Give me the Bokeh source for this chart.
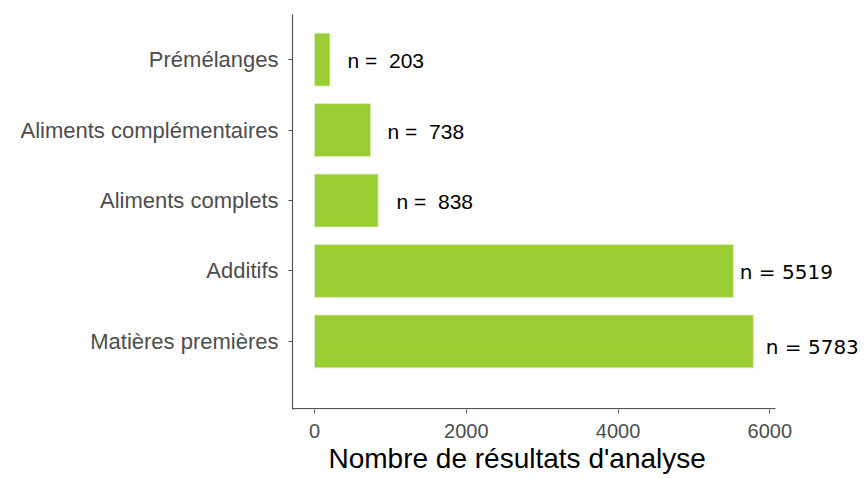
from bokeh.plotting import figure
from bokeh.models import ColumnDataSource, Range1d, FixedTicker
from bokeh.embed import file_html
from bokeh.resources import INLINE

# Data (bottom to top)
categories = ["Matières premières", "Additifs", "Aliments complets",
              "Aliments complémentaires", "Prémélanges"]
counts = [5783, 5519, 838, 738, 203]
positions = [1, 2, 3, 4, 5]
label_fonts = ["DejaVu Sans", "DejaVu Sans", "Liberation Sans",
               "Liberation Sans", "Liberation Sans"]
label_sizes = ["20px", "20px", "21px", "21px", "21px"]
label_nudge_x = [164, 86, 243, 225, 232]
label_nudge_y = [-0.08, -0.01, -0.02, -0.015, -0.01]
x_ticks = [0, 2000, 4000, 6000]
x_title = "Nombre de résultats d'analyse"

# axis extent (ggplot-like expansion) and plotting area
x_lo, x_hi = -290, 6075
y_lo, y_hi = 0.034, 5.64
left_px, right_px = 292, 858
scale = (775 - left_px) / (x_hi - x_lo)
x_end = x_lo + (right_px - left_px) / scale

labels = ["n = " + str(c).rjust(4, "\u00a0") for c in counts]
src = ColumnDataSource(dict(
    y=positions, count=counts, label=labels, font=label_fonts, size=label_sizes,
    lx=[c + n for c, n in zip(counts, label_nudge_x)],
    ly=[p + d for p, d in zip(positions, label_nudge_y)],
))

p = figure(width=864, height=478, output_backend="svg", toolbar_location=None,
           x_range=Range1d(x_lo, x_end), y_range=Range1d(y_lo, y_hi),
           min_border_left=left_px, min_border_right=864 - right_px,
           min_border_top=14, min_border_bottom=69,
           title=x_title, title_location="below")
p.outline_line_color = None
p.xgrid.visible = False
p.ygrid.visible = False
p.background_fill_color = "white"

p.title.text_font = "Liberation Sans"
p.title.text_font_style = "normal"
p.title.text_font_size = "28px"
p.title.text_color = "black"
p.title.align = "left"
p.title.offset = 36
p.title.standoff = 0

p.hbar(y="y", right="count", left=0, height=0.75, source=src,
       fill_color="#9ACD32", line_color="#dce9c0", line_width=0.8)

p.text(x="lx", y="ly", text="label", source=src, text_font="font",
       text_font_size="size", text_color="black",
       text_baseline="middle", text_align="left")

# x axis line limited to the expanded data extent
p.segment(x0=[x_lo], y0=[y_lo + 0.012], x1=[x_hi], y1=[y_lo + 0.012],
          line_color="#555555", line_width=1.3)

for ax in (p.xaxis[0], p.yaxis[0]):
    ax.axis_line_color = "#555555"
    ax.axis_line_width = 1.2
    ax.major_tick_line_color = "#555555"
    ax.major_tick_out = 4
    ax.major_tick_in = 0
    ax.minor_tick_out = 0
    ax.minor_tick_in = 0
    ax.major_label_text_color = "#4d4d4d"
    ax.major_label_text_font = "Liberation Sans"
    ax.major_label_standoff = 10
p.xaxis.axis_line_color = None

p.yaxis.ticker = FixedTicker(ticks=positions)
p.yaxis.major_label_overrides = {pos: c for pos, c in zip(positions, categories)}
p.yaxis.major_label_text_font_size = "22px"

p.xaxis.ticker = FixedTicker(ticks=x_ticks)
p.xaxis.major_label_text_font_size = "20px"

open("out.html", "w").write(file_html(p, INLINE))
